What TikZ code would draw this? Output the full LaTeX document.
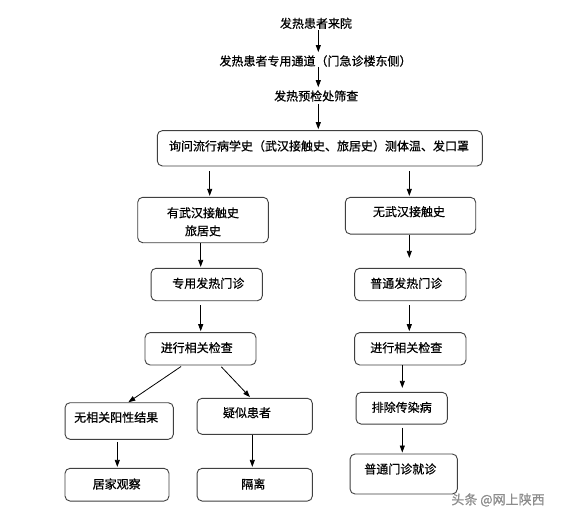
\documentclass[tikz,border=0pt]{standalone}
\usepackage{fontspec}
\setmainfont[FakeBold=0.6,AutoFakeBold=0.6]{Noto Sans CJK SC}
\usetikzlibrary{arrows.meta,calc}
\begin{document}
\begin{tikzpicture}[x=1pt,y=-1pt,
  box/.style={draw=black!75,line width=0.9pt,rounded corners=5pt,inner sep=0pt},
  txt/.style={inner sep=0pt,font=\fontsize{12}{16}\selectfont,text=black},
  arr/.style={-{Triangle[length=7pt,width=5pt]},line width=0.8pt,black}]
\useasboundingbox[fill=white] (0,0) rectangle (573,522);
% top text steps
\node[txt] (t1) at (316,23.3) {发热患者来院};
\node[txt] (t2) at (315.5,61) {发热患者专用通道（门急诊楼东侧）};
\node[txt] (t3) at (316.2,96) {发热预检处筛查};
\coordinate (colT) at (318.3,0);
% main box
\node[box,minimum width=325pt,minimum height=35.3pt] (m) at (319.8,148.3) {};
\node[txt] (mt) at (319,146) {询问流行病学史（武汉接触史、旅居史）测体温、发口罩};
% columns
\coordinate (colA) at (209.7,0);
\coordinate (colL) at (200.7,0);
\coordinate (colR) at (409.3,0);
\coordinate (colR2) at (402.3,0);
\coordinate (colBL) at (117.3,0);
\coordinate (colBM) at (252.3,0);
% second row
\node[box,minimum width=130.6pt,minimum height=45.4pt] (b2) at (203,220) {};
\node[txt,align=center] (b2t) at (203,221.8) {有武汉接触史\\[2pt]旅居史};
\node[box,minimum width=130.4pt,minimum height=36.7pt] (b3) at (410.5,215.7) {};
\node[txt] (b3t) at (409,211.7) {无武汉接触史};
% third row
\node[box,minimum width=111.3pt,minimum height=32.4pt] (b4) at (206.7,284.5) {};
\node[txt] (b4t) at (208.3,283.3) {专用发热门诊};
\node[box,minimum width=111.3pt,minimum height=32.4pt] (b5) at (410.3,284.5) {};
\node[txt] (b5t) at (406.3,283.3) {普通发热门诊};
% fourth row
\node[box,minimum width=111pt,minimum height=32.3pt] (b6) at (200.5,348.8) {};
\node[txt] (b6t) at (196.7,347.7) {进行相关检查};
\node[box,minimum width=111.3pt,minimum height=32.3pt] (b7) at (410.3,348.8) {};
\node[txt] (b7t) at (406.3,347.7) {进行相关检查};
% fifth row
\node[box,minimum width=108.3pt,minimum height=36.6pt] (b10) at (119.2,421) {};
\node[txt] (b10t) at (116.2,417.3) {无相关阳性结果};
\node[box,minimum width=115.3pt,minimum height=36pt] (b11) at (254.7,416.3) {};
\node[txt] (b11t) at (247,412.7) {疑似患者};
\node[box,minimum width=91.3pt,minimum height=31.7pt] (b8) at (401.7,408.2) {};
\node[txt] (b8t) at (401.7,407.3) {排除传染病};
% sixth row
\node[box,minimum width=104pt,minimum height=32.7pt] (b12) at (117,484.7) {};
\node[txt] (b12t) at (116.7,484) {居家观察};
\node[box,minimum width=115.3pt,minimum height=32.7pt] (b13) at (254.7,484.7) {};
\node[txt] (b13t) at (253.3,484) {隔离};
\node[box,minimum width=107.3pt,minimum height=40pt] (b9) at (403.7,474) {};
\node[txt] (b9t) at (400.3,469) {普通门诊就诊};
% watermark
\node[inner sep=0pt,font=\fontsize{13}{15}\selectfont,text=black!45] (wm) at (498,500) {头条 @网上陕西};
% arrows
\draw[arr,shorten <=1pt,shorten >=3pt] (t1.south -| colT) -- (t2.north -| colT);
\draw[arr,shorten <=0pt,shorten >=3pt] (t2.south -| colT) -- (t3.north -| colT);
\draw[arr,shorten <=2pt,shorten >=1pt] (t3.south -| colT) -- (m.north -| colT);
\draw[arr,shorten <=5pt,shorten >=1pt] (m.south -| colA) -- (b2.north -| colA);
\draw[arr,shorten <=5pt,shorten >=1pt] (m.south -| colR) -- (b3.north -| colR);
\draw[arr,shorten >=1pt] (b2.south -| colL) -- (b4.north -| colL);
\draw[arr,shorten >=10pt] (b3.south -| colR) -- (b5.north -| colR);
\draw[arr,shorten <=4pt,shorten >=1pt] (b4.south -| colL) -- (b6.north -| colL);
\draw[arr,shorten <=4pt,shorten >=1pt] (b5.south -| colR) -- (b7.north -| colR);
\draw[arr,shorten <=2pt] ([xshift=-17.8pt]b6.south) -- ([xshift=9.1pt]b10.north);
\draw[arr,shorten <=2pt,shorten >=1pt] ([xshift=19.5pt]b6.south) -- ([xshift=-4pt]b11.north);
\draw[arr,shorten <=0pt,shorten >=4pt] (b7.south -| colR2) -- (b8.north -| colR2);
\draw[arr,shorten <=3pt,shorten >=1pt] (b8.south -| colR2) -- (b9.north -| colR2);
\draw[arr,shorten <=2pt,shorten >=1pt] (b10.south -| colBL) -- (b12.north -| colBL);
\draw[arr,shorten >=1pt] (b11.south -| colBM) -- (b13.north -| colBM);
\end{tikzpicture}
\end{document}
